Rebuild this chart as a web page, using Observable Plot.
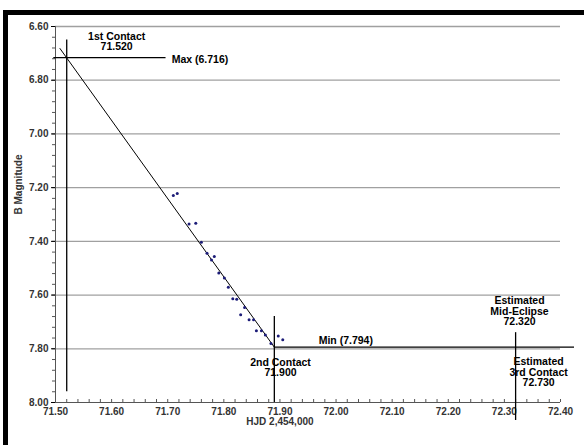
<!DOCTYPE html>
<html><head><meta charset="utf-8">
<script src="https://cdn.jsdelivr.net/npm/d3@7"></script>
<script src="https://cdn.jsdelivr.net/npm/@observablehq/plot@0.6"></script>
<style>
html,body{margin:0;padding:0;background:#fff;}
#wrap{position:relative;width:584px;height:445px;overflow:hidden;}
#frame{position:absolute;left:3px;top:10px;width:600px;height:500px;border-left:5px solid #000;border-top:5px solid #000;box-sizing:border-box;}
#chart{position:absolute;left:0;top:0;}
</style></head>
<body><div id="wrap"><div id="frame"></div><div id="chart"></div></div>
<script>
// Observations (HJD - 2,454,000, B magnitude)
const hjd = [71.710,71.717,71.738,71.750,71.760,71.770,71.778,71.783,71.791,71.801,71.808,71.816,71.823,71.830,71.837,71.845,71.853,71.858,71.867,71.874,71.884,71.897,71.905];
const bmag = [7.229,7.222,7.335,7.333,7.403,7.444,7.469,7.456,7.518,7.536,7.571,7.614,7.616,7.673,7.646,7.692,7.692,7.733,7.733,7.749,7.780,7.752,7.766];

// Fitted ingress line
const fitX = [71.508, 71.89];
const fitY = [6.682, 7.794];

// Contacts and extrema
const contact1 = 71.52, contact2 = 71.89, midEclipse = 72.32;
const maxMag = 6.716, minMag = 7.794;

// Axis ticks
const xTicks = [71.5,71.6,71.7,71.8,71.9,72.0,72.1,72.2,72.3,72.4];
const xMinor = d3.range(0, 46).map(i => 71.5 + i*0.02);
const yTicks = [6.6,6.8,7.0,7.2,7.4,7.6,7.8,8.0];
const yMinor = d3.range(0, 36).map(i => 6.6 + i*0.04);
const gridY = [6.6,6.8,7.0,7.2,7.4,7.6,7.8];

// Annotations
const notesCenter = [
  {x: 71.609, y: 6.656, text: "1st Contact\n71.520"},
  {x: 71.901, y: 7.870, text: "2nd Contact\n71.900"},
  {x: 72.327, y: 7.661, text: "Estimated\nMid-Eclipse\n72.320"},
  {x: 72.361, y: 7.888, text: "Estimated\n3rd Contact\n72.730"}
];
const notesStart = [
  {x: 71.707, y: 6.724, text: "Max (6.716)"},
  {x: 71.969, y: 7.769, text: "Min (7.794)"}
];

const pts = hjd.map((x,i) => ({x, y: bmag[i]}));
const fit = fitX.map((x,i) => ({x, y: fitY[i]}));
const F = "'Liberation Sans', Arial, sans-serif";

const chart = Plot.plot({
  width: 584, height: 445,
  marginLeft: 55, marginRight: 24, marginTop: 26, marginBottom: 43,
  style: {fontFamily: F, background: "transparent", overflow: "visible"},
  x: {domain: [71.5, 72.4]},
  y: {domain: [6.6, 8.0], reverse: true},
  marks: [
    Plot.ruleY(gridY, {x1: 71.5, x2: 72.4, stroke: "#a0a0a0", strokeWidth: 1.3}),
    Plot.axisX({ticks: xMinor, tickSize: -3, text: null, label: null, stroke: "#555"}),
    Plot.axisX({ticks: xTicks, tickSize: 0, tickPadding: 5, tickFormat: d => d.toFixed(2), fontSize: 10, fontWeight: "bold", fill: "#333", label: null}),
    Plot.axisY({ticks: yMinor, tickSize: 3, text: null, label: null, stroke: "#555"}),
    Plot.axisY({ticks: yTicks, tickSize: 4, tickPadding: 3, tickFormat: d => d.toFixed(2), fontSize: 10, fontWeight: "bold", fill: "#333", label: null}),
    Plot.ruleX([71.5], {y1: 6.6, y2: 8.0, stroke: "#555"}),
    Plot.ruleY([8.0], {x1: 71.5, x2: 72.4, stroke: "#555"}),
    Plot.text(["HJD 2,454,000"], {x: 71.9, frameAnchor: "bottom", dy: 22, fontSize: 10, fontWeight: "bold", fill: "#333"}),
    Plot.text(["B Magnitude"], {y: 7.3, frameAnchor: "left", dx: -37, rotate: -90, fontSize: 10, fontWeight: "bold", fill: "#333"}),
    Plot.line(fit, {x: "x", y: "y", stroke: "#000", strokeWidth: 1}),
    Plot.ruleX([contact1], {y1: 6.65, y2: 7.96, stroke: "#000", strokeWidth: 1.3}),
    Plot.ruleY([maxMag], {x1: 71.497, x2: 71.697, stroke: "#000", strokeWidth: 1.3}),
    Plot.ruleX([contact2], {y1: 7.68, y2: 8.0, stroke: "#000", strokeWidth: 1.3}),
    Plot.ruleY([minMag], {x1: contact2, x2: 72.425, stroke: "#000", strokeWidth: 1.3}),
    Plot.ruleX([midEclipse], {y1: 7.74, y2: 8.067, stroke: "#000", strokeWidth: 1.3}),
    Plot.dot(pts, {x: "x", y: "y", r: 1.5, fill: "#1c1c78", stroke: "none"}),
    Plot.text(notesCenter, {x: "x", y: "y", text: "text", textAnchor: "middle", lineAnchor: "middle", lineHeight: 1.0, fontSize: 10.5, fontWeight: "bold", fill: "#000"}),
    Plot.text(notesStart, {x: "x", y: "y", text: "text", textAnchor: "start", lineAnchor: "middle", fontSize: 10.5, fontWeight: "bold", fill: "#000"})
  ]
});
document.getElementById("chart").appendChild(chart);
</script></body></html>
